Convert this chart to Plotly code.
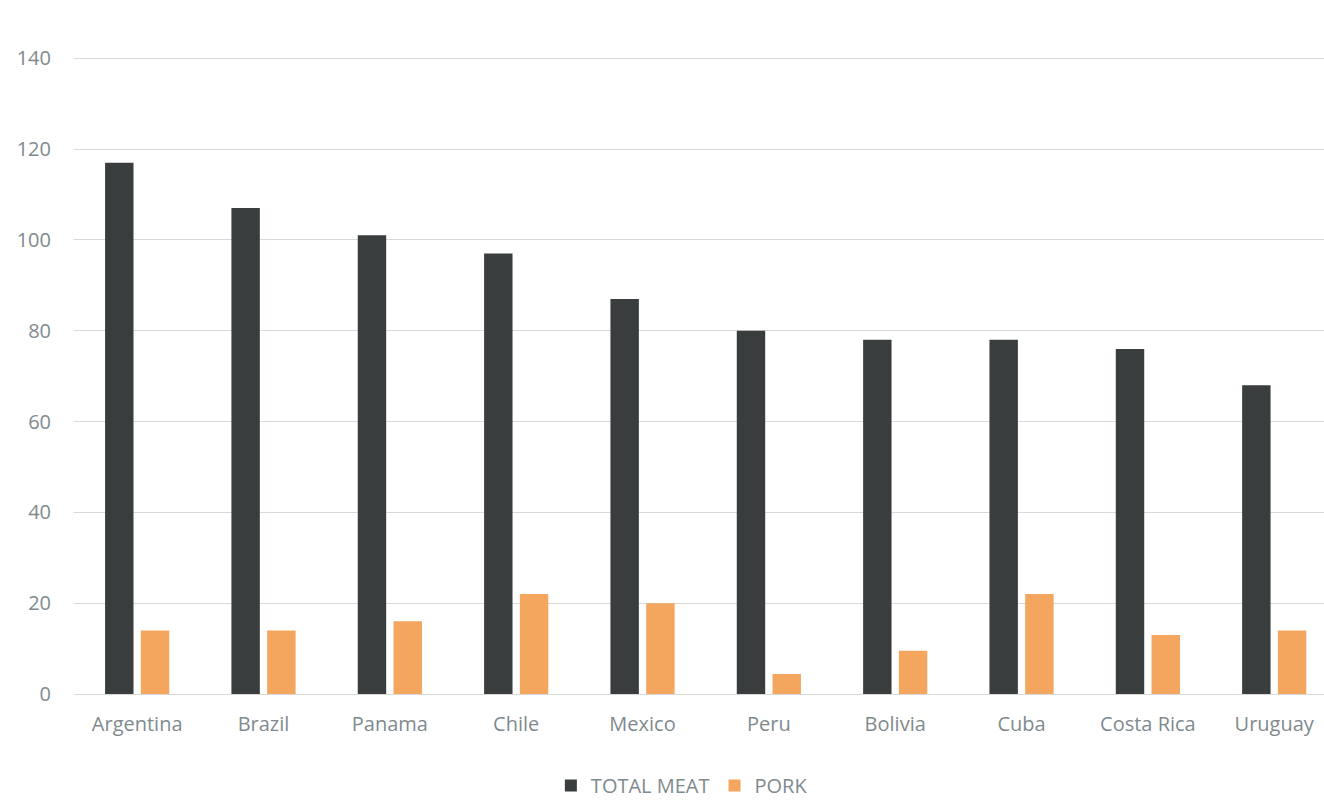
import plotly.graph_objects as go

countries = ["Argentina", "Brazil", "Panama", "Chile", "Mexico", "Peru",
             "Bolivia", "Cuba", "Costa Rica", "Uruguay"]
total_meat = [117, 107, 101, 97, 87, 80, 78, 78, 76, 68]
pork = [14, 14, 16, 22, 20, 4.4, 9.5, 22, 13, 14]
y_ticks = [0, 20, 40, 60, 80, 100, 120, 140]

text_color = "#7F8A8E"
grid_color = "#D9D9D9"

fig = go.Figure()
fig.add_trace(go.Bar(x=countries, y=total_meat, name="TOTAL MEAT",
                     marker=dict(color="#3A3D3E", line=dict(width=0))))
fig.add_trace(go.Bar(x=countries, y=pork, name="PORK",
                     marker=dict(color="#F5A65E", line=dict(width=0))))

fig.update_layout(
    width=1324, height=805,
    margin=dict(l=74, r=0, t=56, b=111),
    paper_bgcolor="white", plot_bgcolor="white",
    barmode="group", bargap=0.434, bargroupgap=0.205,
    font=dict(family="Open Sans", size=20, color=text_color),
    showlegend=True,
    legend=dict(orientation="h", xref="container", yref="container",
                x=0.515, xanchor="center", y=-0.006, yanchor="bottom",
                font=dict(size=20, color=text_color),
                itemwidth=30, traceorder="normal"),
)
fig.update_xaxes(range=[-0.5, 9.394], showgrid=False, showline=False,
                 ticks="", ticklabelstandoff=16,
                 tickfont=dict(size=20, color=text_color))
fig.update_yaxes(range=[0, 140.5], tickvals=y_ticks, showgrid=True,
                 gridcolor=grid_color, gridwidth=1.3, zeroline=True,
                 zerolinecolor=grid_color, zerolinewidth=1.3,
                 showline=False, ticks="", ticklabelstandoff=22,
                 tickfont=dict(size=20, color=text_color))

fig.write_html("out.html")
